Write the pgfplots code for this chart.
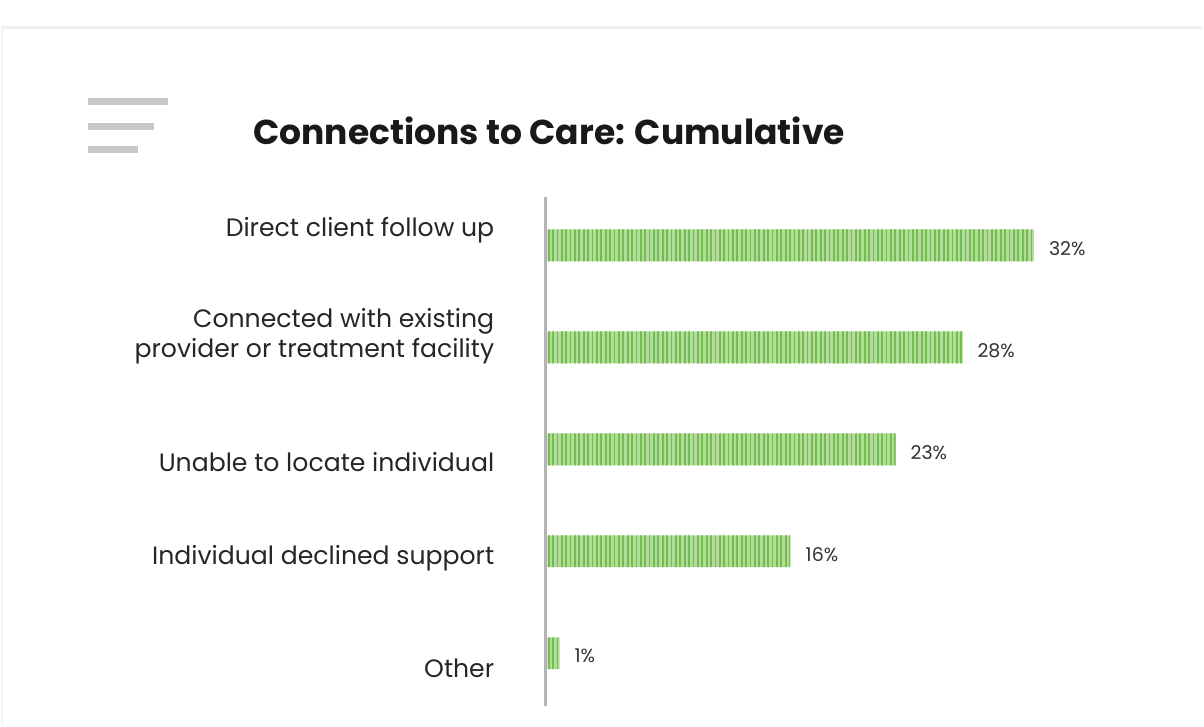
\documentclass[border=0pt]{standalone}
\usepackage{pgfplots}
\pgfplotsset{compat=1.18}
\usepackage{fontspec}
\setmainfont{Poppins}
\usetikzlibrary{patterns.meta}
\definecolor{barfill}{HTML}{B2DD98}
\definecolor{barline}{HTML}{74BB50}
\definecolor{axisgray}{HTML}{B4B4B4}
\definecolor{icongray}{HTML}{C8C8C8}
\begin{document}
\begin{tikzpicture}[x=1pt,y=1pt]
% page frame (1px = 0.5pt)
\fill[white] (0,0) rectangle (602,363.5);
\draw[black!6, line width=1.5pt] (0,349.5) -- (602,349.5);
\draw[black!4, line width=1pt] (0.5,0) -- (0.5,349.5);
% menu icon
\draw[icongray, line width=3.5pt] (43.5,312.5) -- (83.5,312.5);
\draw[icongray, line width=3.5pt] (43.5,300) -- (76.5,300);
\draw[icongray, line width=3.5pt] (43.5,288.5) -- (68.5,288.5);
% title
\node[font=\fontsize{17.3}{20}\selectfont\bfseries, text=black!90] at (274.5,298) {Connections to Care: Cumulative};
\begin{axis}[
  at={(272.5pt,9.5pt)}, anchor=south west,
  scale only axis, width=306pt, height=255.5pt,
  xbar, bar width=16pt,
  xmin=-0.15, xmax=40, ymin=-0.48, ymax=4.52,
  y dir=reverse,
  axis x line=none,
  axis y line*=left,
  y axis line style={axisgray, line width=1.5pt, -},
  ytick={-0.15,0.89,2.12,3.07,4.15},
  yticklabels={Direct client follow up, {Connected with existing\\provider or treatment facility}, Unable to locate individual, Individual declined support, Other},
  yticklabel style={align=right, font=\fontsize{12.6}{15}\selectfont, text=black!85, xshift=-22pt},
  major tick length=0pt,
  clip=false,
  point meta=explicit symbolic,
  nodes near coords,
  nodes near coords style={font=\fontsize{9.5}{11}\selectfont, text=black!80, anchor=west, xshift=4pt, yshift=-1.5pt},
]
\addplot[draw=none, fill=barfill,
  postaction={pattern={Lines[angle=90, distance=2.2pt, line width=0.9pt]}, pattern color=barline}]
  coordinates {
  (32,0) [32\%]
  (27.3,1) [28\%]
  (22.9,2) [23\%]
  (16,3) [16\%]
  (0.8,4) [1\%]
};
\end{axis}
\end{tikzpicture}
\end{document}
